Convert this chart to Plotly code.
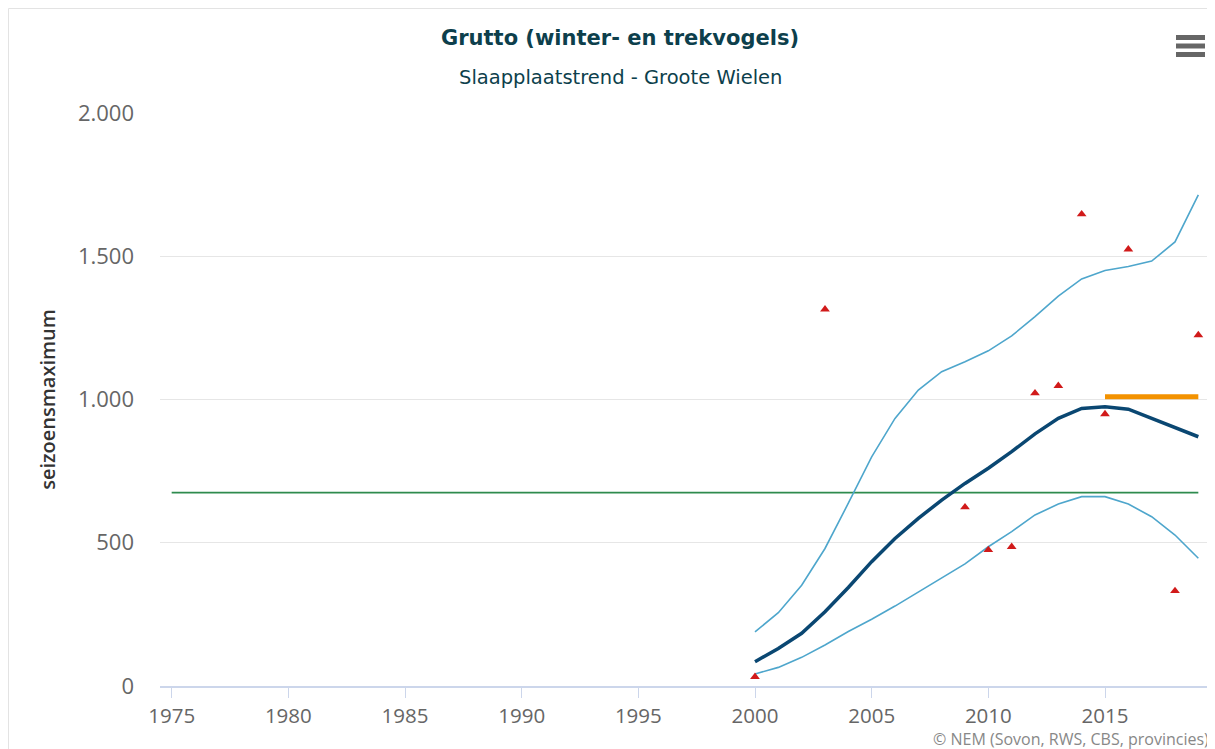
import plotly.graph_objects as go

years = list(range(2000, 2020))
trend = [85, 131, 184, 259, 344, 434, 515, 585, 649, 707, 760, 818, 880, 934, 969, 975, 966, 934, 899, 870]
upper = [189, 256, 352, 480, 638, 800, 934, 1033, 1097, 1132, 1170, 1222, 1289, 1361, 1421, 1450, 1464, 1483, 1550, 1714]
lower = [42, 65, 100, 143, 190, 233, 279, 329, 376, 426, 486, 539, 597, 635, 661, 661, 635, 591, 527, 446]

count_years = [2000, 2003, 2009, 2010, 2011, 2012, 2013, 2014, 2015, 2016, 2018, 2019]
counts = [32, 1315, 624, 475, 486, 1022, 1048, 1647, 949, 1524, 332, 1225]

ref_years = [1975, 2019]
ref_level = [675, 675]
target_years = [2015, 2019]
target_level = [1010, 1010]

y_ticks = [0, 500, 1000, 1500, 2000]
y_tick_labels = ["0", "500", "1.000", "1.500", "2.000"]
x_ticks = [1975, 1980, 1985, 1990, 1995, 2000, 2005, 2010, 2015]

FONT = "Open Sans, sans-serif"
TFONT = "DejaVu Sans, sans-serif"
# page body has an 8px margin, so the figure is sized/offset to compensate
W, H = 1207, 741
L, T, R, B = 152, 105, 5, 63
PW, PH = W - L - R, H - T - B


def px(fx):
    return (fx - L) / PW


def py(fy):
    return (T + PH - fy) / PH


fig = go.Figure()
fig.add_trace(go.Scatter(x=ref_years, y=ref_level, mode="lines",
                         line=dict(color="#2e8b4e", width=1.6), hoverinfo="skip", showlegend=False))
fig.add_trace(go.Scatter(x=years, y=upper, mode="lines",
                         line=dict(color="#4ea6cc", width=1.6), showlegend=False))
fig.add_trace(go.Scatter(x=years, y=lower, mode="lines",
                         line=dict(color="#4ea6cc", width=1.6), showlegend=False))
fig.add_trace(go.Scatter(x=years, y=trend, mode="lines",
                         line=dict(color="#0a4772", width=3.5), showlegend=False))
fig.add_trace(go.Scatter(x=target_years, y=target_level, mode="lines",
                         line=dict(color="#f39200", width=5), showlegend=False))
fig.add_trace(go.Scatter(x=count_years, y=counts, mode="markers",
                         marker=dict(symbol="triangle-up", color="#d11a1a", size=8.5), showlegend=False))

shapes = [
    dict(type="rect", xref="paper", yref="paper", x0=px(0.5), x1=px(1204), y0=py(760), y1=py(0.5),
         line=dict(color="#e3e3e3", width=1), fillcolor="rgba(0,0,0,0)", layer="below"),
]
for fy in [29.5, 38.0, 46.5]:
    shapes.append(dict(type="line", xref="paper", yref="paper", x0=px(1168), x1=px(1197), y0=py(fy), y1=py(fy),
                       line=dict(color="#666666", width=5)))

fig.update_layout(
    width=W, height=H,
    margin=dict(l=L, r=R, t=T, b=B),
    paper_bgcolor="white", plot_bgcolor="white",
    font=dict(family=FONT, color="#666666"),
    title=dict(text="Grutto (winter- en trekvogels)", xref="container", x=612 / W, xanchor="center",
               y=1 - 30 / H, yanchor="middle",
               font=dict(size=21, color="#0d3f4c", family=TFONT, weight="bold")),
    annotations=[
        dict(text="Slaapplaatstrend - Groote Wielen", xref="paper", yref="paper", x=px(612), y=py(70),
             xanchor="center", yanchor="middle", showarrow=False,
             font=dict(size=19.5, color="#0d3f4c", family=TFONT)),
        dict(text="© NEM (Sovon, RWS, CBS, provincies)", xref="paper", yref="paper", x=px(1203), y=py(731),
             xanchor="right", yanchor="middle", showarrow=False,
             font=dict(size=16, color="#888888", family=FONT)),
    ],
    shapes=shapes,
    xaxis=dict(range=[1974.5, 2019.5], tickvals=x_ticks, showgrid=False, zeroline=False,
               showline=True, linecolor="#ccd6eb", linewidth=2,
               ticks="outside", ticklen=10, tickcolor="#ccd6eb", tickwidth=1,
               tickfont=dict(size=20.5, color="#666666", family=FONT)),
    yaxis=dict(range=[0, 2000], tickvals=y_ticks, ticktext=y_tick_labels, showgrid=True,
               gridcolor="#e6e6e6", gridwidth=1, zeroline=False, showline=False,
               ticks="", ticklabelstandoff=25,
               tickfont=dict(size=22, color="#666666", family=FONT)),
)
fig.update_yaxes(title=dict(text="seizoensmaximum", standoff=16,
                            font=dict(size=20, color="#333333", family=FONT, weight=600)))

fig.write_html("out.html")
